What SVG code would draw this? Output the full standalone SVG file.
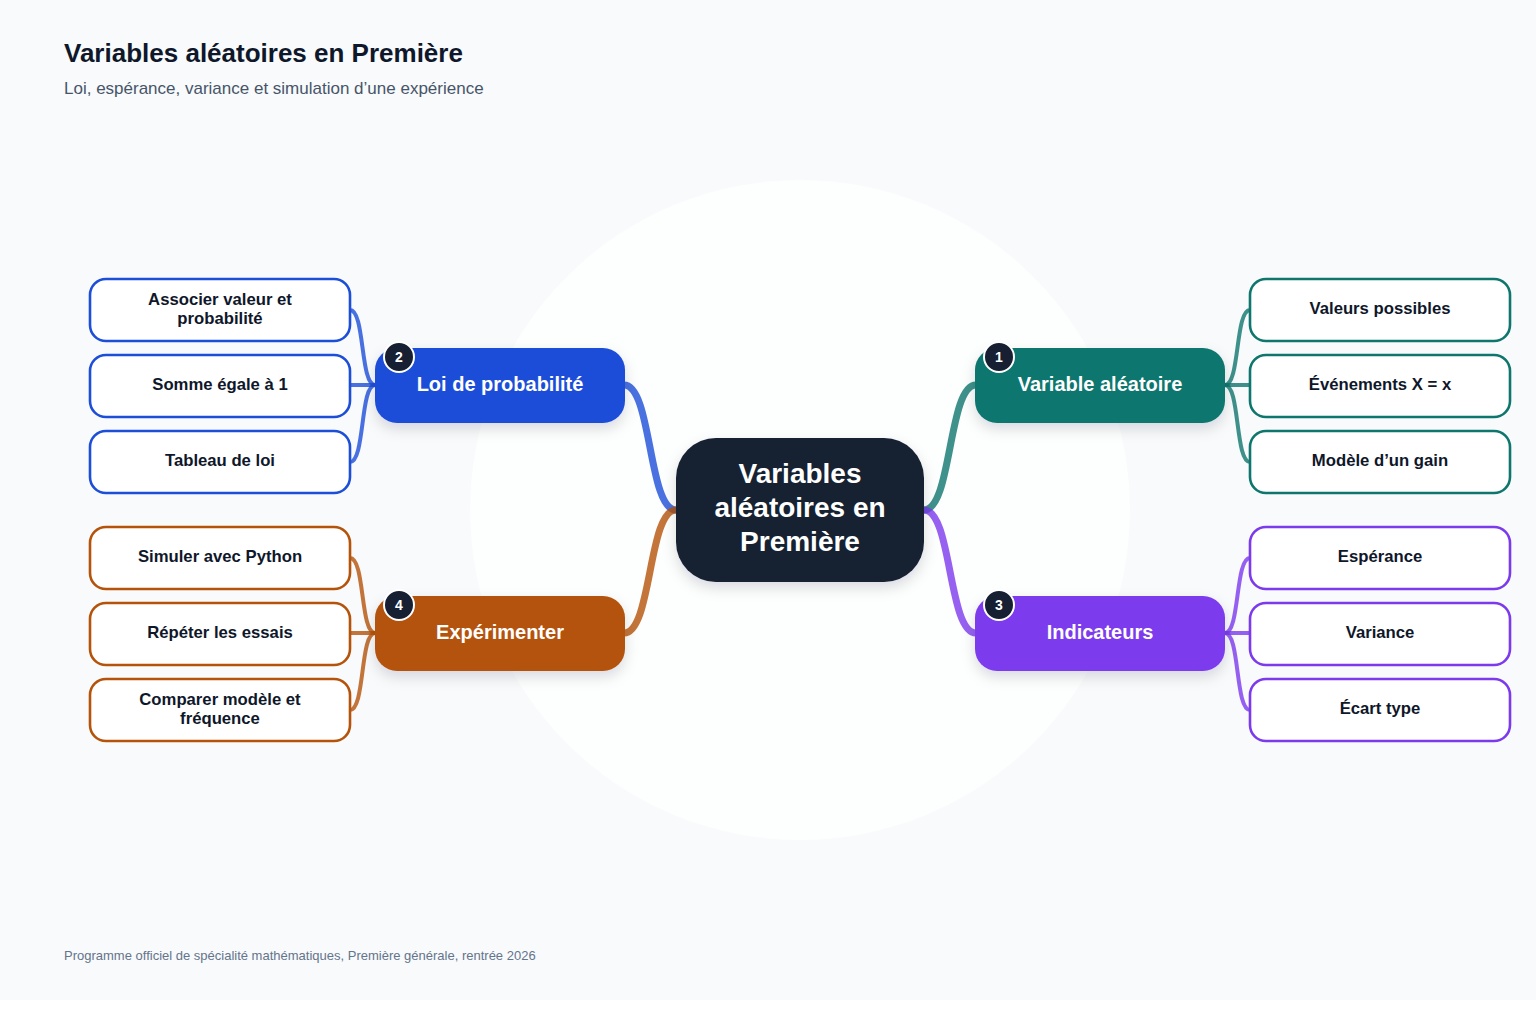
<svg xmlns="http://www.w3.org/2000/svg" width="1536" height="1024" viewBox="0 0 1536 1024">
<defs>
<filter id="sh" x="-20%" y="-30%" width="140%" height="170%">
<feDropShadow dx="0" dy="6" stdDeviation="7" flood-color="#0f172a" flood-opacity="0.14"/>
</filter>
<style>
text{font-family:"Liberation Sans",Arial,sans-serif}
.title{font-size:26px;font-weight:bold;fill:#0f172a}
.sub{font-size:17px;fill:#475569}
.foot{font-size:13px;fill:#64748b}
.ctext{font-size:28px;font-weight:bold;fill:#ffffff;text-anchor:middle}
.btext{font-size:20px;font-weight:bold;fill:#ffffff;text-anchor:middle}
.ltext{font-size:16.7px;font-weight:bold;fill:#0f172a;text-anchor:middle}
.badge{fill:#172033;stroke:#ffffff;stroke-width:2}
.bnum{font-size:14px;font-weight:bold;fill:#ffffff;text-anchor:middle}
.leaf{fill:#ffffff;stroke-width:2.6}
.main{fill:none;stroke-width:7;stroke-linecap:round;stroke-opacity:0.8}
.sub-c{fill:none;stroke-width:4;stroke-linecap:round;stroke-opacity:0.8}
</style>
</defs>
<rect x="0" y="0" width="1536" height="1024" fill="#ffffff"/>
<rect x="0" y="0" width="1536" height="1000" fill="#f8fafc"/>
<circle cx="800" cy="510" r="330" fill="#ffffff" fill-opacity="0.75"/>

<text class="title" x="64" y="62">Variables aléatoires en Première</text>
<text class="sub" x="64" y="94">Loi, espérance, variance et simulation d’une expérience</text>
<text class="foot" x="64" y="960">Programme officiel de spécialité mathématiques, Première générale, rentrée 2026</text>

<g id="connectors">
<path class="main" stroke="#0f766e" d="M924,510 C952,510 948,385 976,385"/>
<path class="main" stroke="#7c3aed" d="M924,510 C952,510 948,633 976,633"/>
<path class="main" stroke="#1d4ed8" d="M676,510 C648,510 652,385 624,385"/>
<path class="main" stroke="#b45309" d="M676,510 C648,510 652,633 624,633"/>
<path class="sub-c" stroke="#0f766e" d="M1225,385 C1240,385 1235,310 1250,310"/>
<path class="sub-c" stroke="#0f766e" d="M1225,385 L1250,385"/>
<path class="sub-c" stroke="#0f766e" d="M1225,385 C1240,385 1235,462 1250,462"/>
<path class="sub-c" stroke="#7c3aed" d="M1225,633 C1240,633 1235,558 1250,558"/>
<path class="sub-c" stroke="#7c3aed" d="M1225,633 L1250,633"/>
<path class="sub-c" stroke="#7c3aed" d="M1225,633 C1240,633 1235,710 1250,710"/>
<path class="sub-c" stroke="#1d4ed8" d="M375,385 C360,385 365,310 350,310"/>
<path class="sub-c" stroke="#1d4ed8" d="M375,385 L350,385"/>
<path class="sub-c" stroke="#1d4ed8" d="M375,385 C360,385 365,462 350,462"/>
<path class="sub-c" stroke="#b45309" d="M375,633 C360,633 365,558 350,558"/>
<path class="sub-c" stroke="#b45309" d="M375,633 L350,633"/>
<path class="sub-c" stroke="#b45309" d="M375,633 C360,633 365,710 350,710"/>
</g>

<g id="center">
<rect x="676" y="438" width="248" height="144" rx="40" fill="#172033" filter="url(#sh)"/>
<text class="ctext" x="800" y="483">Variables</text>
<text class="ctext" x="800" y="517">aléatoires en</text>
<text class="ctext" x="800" y="551">Première</text>
</g>

<g id="b1">
<rect x="975" y="348" width="250" height="75" rx="22" fill="#0f766e" filter="url(#sh)"/>
<text class="btext" x="1100" y="391">Variable aléatoire</text>
<circle class="badge" cx="999" cy="357" r="15"/>
<text class="bnum" x="999" y="362">1</text>
</g>
<g id="b2">
<rect x="375" y="348" width="250" height="75" rx="22" fill="#1d4ed8" filter="url(#sh)"/>
<text class="btext" x="500" y="391">Loi de probabilité</text>
<circle class="badge" cx="399" cy="357" r="15"/>
<text class="bnum" x="399" y="362">2</text>
</g>
<g id="b3">
<rect x="975" y="596" width="250" height="75" rx="22" fill="#7c3aed" filter="url(#sh)"/>
<text class="btext" x="1100" y="639">Indicateurs</text>
<circle class="badge" cx="999" cy="605" r="15"/>
<text class="bnum" x="999" y="610">3</text>
</g>
<g id="b4">
<rect x="375" y="596" width="250" height="75" rx="22" fill="#b45309" filter="url(#sh)"/>
<text class="btext" x="500" y="639">Expérimenter</text>
<circle class="badge" cx="399" cy="605" r="15"/>
<text class="bnum" x="399" y="610">4</text>
</g>

<g id="l1a"><rect class="leaf" stroke="#0f766e" x="1250" y="279" width="260" height="62" rx="16"/><text class="ltext" x="1380" y="314">Valeurs possibles</text></g>
<g id="l1b"><rect class="leaf" stroke="#0f766e" x="1250" y="355" width="260" height="62" rx="16"/><text class="ltext" x="1380" y="390">Événements X = x</text></g>
<g id="l1c"><rect class="leaf" stroke="#0f766e" x="1250" y="431" width="260" height="62" rx="16"/><text class="ltext" x="1380" y="466">Modèle d’un gain</text></g>

<g id="l2a"><rect class="leaf" stroke="#1d4ed8" x="90" y="279" width="260" height="62" rx="16"/><text class="ltext" x="220" y="305">Associer valeur et</text><text class="ltext" x="220" y="324">probabilité</text></g>
<g id="l2b"><rect class="leaf" stroke="#1d4ed8" x="90" y="355" width="260" height="62" rx="16"/><text class="ltext" x="220" y="390">Somme égale à 1</text></g>
<g id="l2c"><rect class="leaf" stroke="#1d4ed8" x="90" y="431" width="260" height="62" rx="16"/><text class="ltext" x="220" y="466">Tableau de loi</text></g>

<g id="l3a"><rect class="leaf" stroke="#7c3aed" x="1250" y="527" width="260" height="62" rx="16"/><text class="ltext" x="1380" y="562">Espérance</text></g>
<g id="l3b"><rect class="leaf" stroke="#7c3aed" x="1250" y="603" width="260" height="62" rx="16"/><text class="ltext" x="1380" y="638">Variance</text></g>
<g id="l3c"><rect class="leaf" stroke="#7c3aed" x="1250" y="679" width="260" height="62" rx="16"/><text class="ltext" x="1380" y="714">Écart type</text></g>

<g id="l4a"><rect class="leaf" stroke="#b45309" x="90" y="527" width="260" height="62" rx="16"/><text class="ltext" x="220" y="562">Simuler avec Python</text></g>
<g id="l4b"><rect class="leaf" stroke="#b45309" x="90" y="603" width="260" height="62" rx="16"/><text class="ltext" x="220" y="638">Répéter les essais</text></g>
<g id="l4c"><rect class="leaf" stroke="#b45309" x="90" y="679" width="260" height="62" rx="16"/><text class="ltext" x="220" y="705">Comparer modèle et</text><text class="ltext" x="220" y="724">fréquence</text></g>
</svg>
